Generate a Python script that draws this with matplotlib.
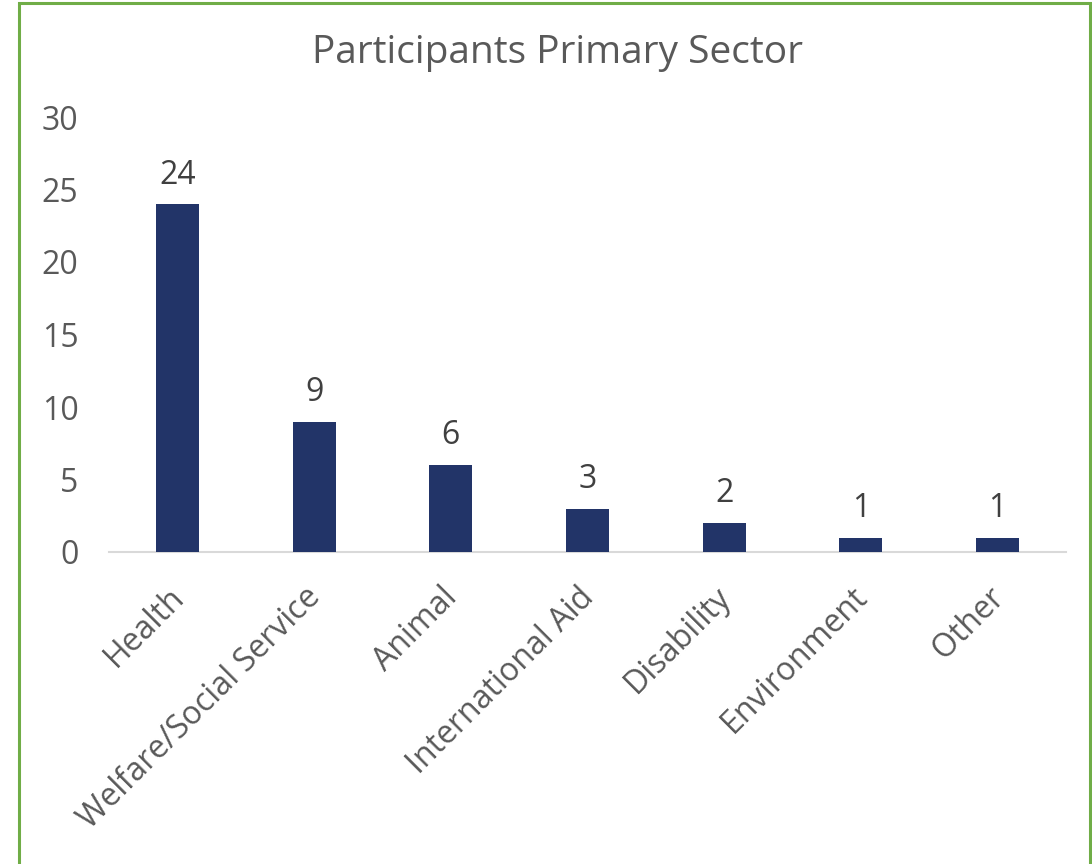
import matplotlib
matplotlib.use("Agg")
import matplotlib.pyplot as plt
from matplotlib.patches import Rectangle

categories = ["Health", "Welfare/Social Service", "Animal", "International Aid",
              "Disability", "Environment", "Other"]
values = [24, 9, 6, 3, 2, 1, 1]
yticks = [0, 5, 10, 15, 20, 25, 30]
title = "Participants Primary Sector"

plt.rcParams['font.family'] = ['Open Sans', 'DejaVu Sans']

W, H = 1092, 864
fig = plt.figure(figsize=(W / 100, H / 100), dpi=100)
fig.patch.set_facecolor("white")

# green frame
fig.patches.append(Rectangle((19 / W, -0.05), (1090 - 19) / W, 1.05 - 3.5 / H,
                             transform=fig.transFigure, fill=False,
                             edgecolor="#70AD47", linewidth=2.2, zorder=0))

ax = fig.add_axes([109 / W, (H - 552) / H, (1066 - 109) / W, 435 / H])
x = list(range(len(categories)))
bars = ax.bar(x, values, width=0.315, color="#223468", zorder=3)
ax.set_xlim(-0.5, len(categories) - 0.5)
ax.set_ylim(0, 30)
ax.set_yticks(yticks)
ax.set_yticklabels([str(t) for t in yticks])
for s in ["top", "right", "left"]:
    ax.spines[s].set_visible(False)
ax.spines["bottom"].set_color("#D9D9D9")
ax.spines["bottom"].set_linewidth(1.5)
ax.tick_params(axis="y", length=0, pad=22, labelsize=23, labelcolor="#595959")
ax.tick_params(axis="x", length=0, labelsize=23, labelcolor="#595959")
ax.set_xticks(x)
ax.set_xticklabels(categories, rotation=45, ha="right", va="top",
                   rotation_mode="anchor")
for lbl in ax.get_xticklabels():
    lbl.set_transform(lbl.get_transform() + matplotlib.transforms.ScaledTranslation(-10 / 100, -24 / 100, fig.dpi_scale_trans))

for xi, v in zip(x, values):
    ax.annotate(str(v), (xi, v), xytext=(0, 9), textcoords="offset points",
                ha="center", va="bottom", fontsize=23, color="#404040")

fig.text(558 / W, 1 - 53 / H, title, ha="center", va="center",
         fontsize=28, color="#595959")

fig.savefig("out.png", dpi=100, facecolor="white")
